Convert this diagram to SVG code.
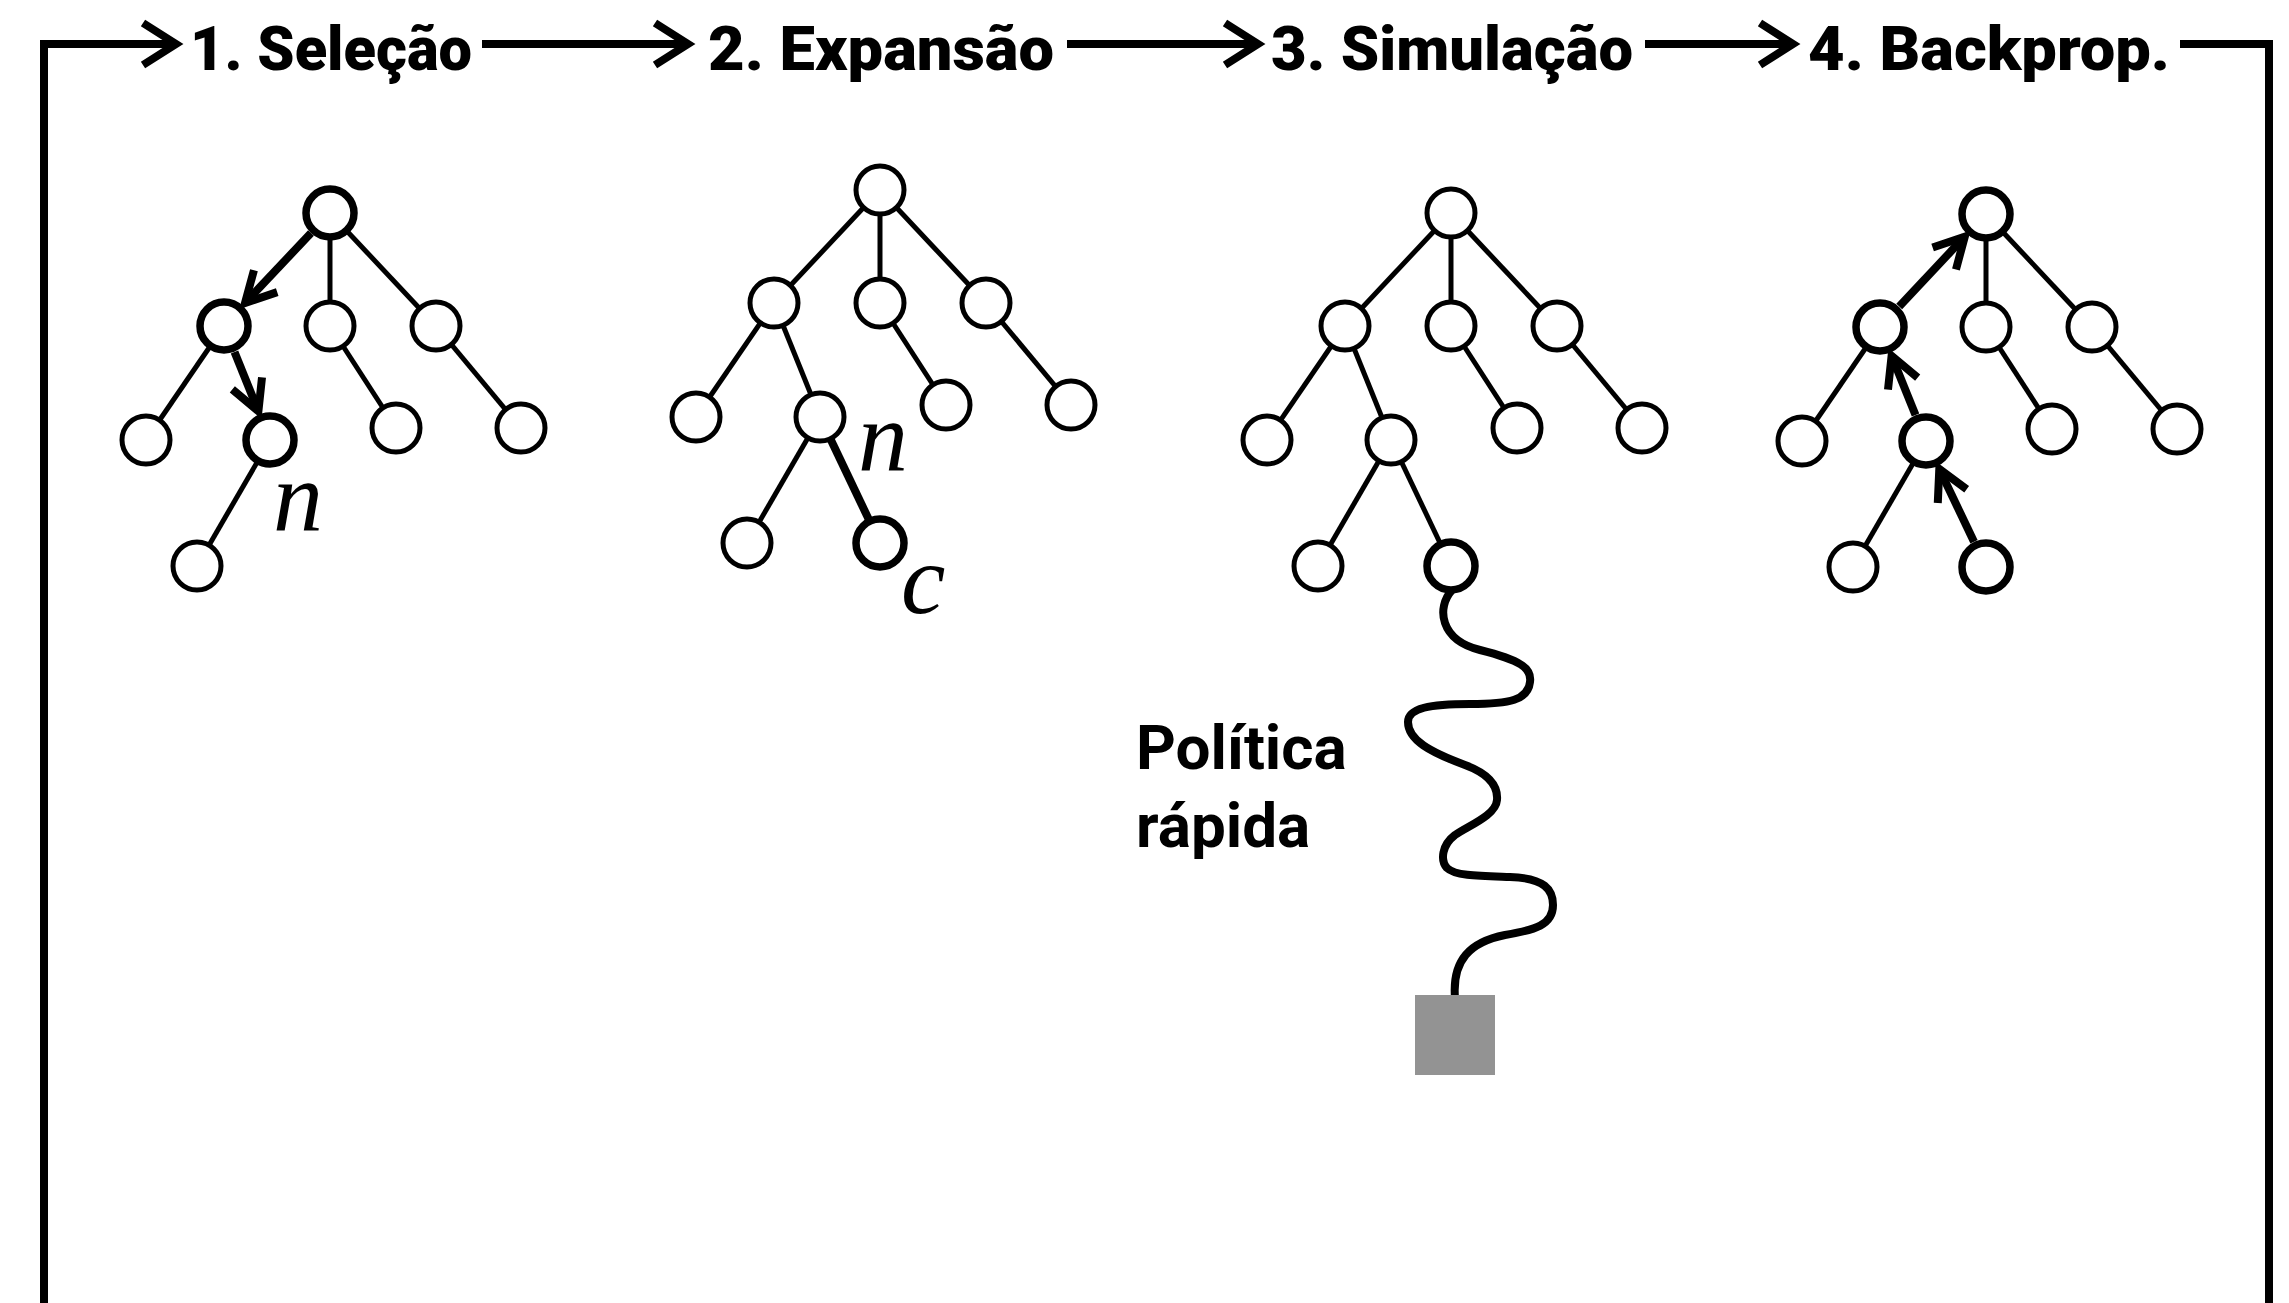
<svg xmlns="http://www.w3.org/2000/svg" width="2289" height="1303" viewBox="0 0 2289 1303">
  <style>
    .step { font-family: Roboto, "Liberation Sans", sans-serif; font-weight: 900; font-size: 62px; fill: #000; }
    .label { font-family: Roboto, "Liberation Sans", sans-serif; font-weight: 700; font-size: 62px; fill: #000; }
    .var { font-family: "Liberation Serif", serif; font-style: italic; font-size: 100px; fill: #000; }
    .edge { stroke: #000; stroke-width: 5; fill: none; }
    .bold-edge { stroke: #000; stroke-width: 8; fill: none; }
    .frame { stroke: #000; stroke-width: 8; fill: none; }
    .node { fill: #fff; stroke: #000; stroke-width: 5; }
    .node.hl { stroke-width: 7.5; }
    .rollout { stroke: #000; stroke-width: 8; fill: none; stroke-linecap: round; }
  </style>
  <defs>
    <marker id="flow-head" markerUnits="userSpaceOnUse" viewBox="-40 -26 44 52" refX="0" refY="0" markerWidth="44" markerHeight="52" orient="auto" overflow="visible">
      <path d="M-33,-21 L0,0 L-33,21" fill="none" stroke="#000" stroke-width="8"/>
    </marker>
    <marker id="tree-head" markerUnits="userSpaceOnUse" viewBox="-36 -20 40 40" refX="0" refY="0" markerWidth="40" markerHeight="40" orient="auto" overflow="visible">
      <path d="M-30,-16 L0,0 L-30,16" fill="none" stroke="#000" stroke-width="8"/>
    </marker>
  </defs>

  <rect width="2289" height="1303" fill="#fff"/>

  <!-- cycle frame and step arrows -->
  <g id="connectors">
    <path class="frame" d="M44,1303 V44 H176" marker-end="url(#flow-head)"/>
    <path class="frame" d="M482,44 H688" marker-end="url(#flow-head)"/>
    <path class="frame" d="M1067,44 H1258" marker-end="url(#flow-head)"/>
    <path class="frame" d="M1645,44 H1793" marker-end="url(#flow-head)"/>
    <path class="frame" d="M2180,44 H2269 V1303"/>

    <!-- tree 1 edges: selection path root -> L -> LR -->
    <g transform="translate(330,213)">
      <line class="edge" x1="0" y1="0" x2="0" y2="113"/>
      <line class="edge" x1="0" y1="0" x2="106" y2="113"/>
      <line class="edge" x1="-106" y1="113" x2="-184" y2="227"/>
      <line class="edge" x1="0" y1="113" x2="66" y2="215"/>
      <line class="edge" x1="106" y1="113" x2="191" y2="215"/>
      <line class="edge" x1="-60" y1="227" x2="-133" y2="353"/>
      <line class="bold-edge" x1="-19" y1="20" x2="-85" y2="90" marker-end="url(#tree-head)"/>
      <line class="bold-edge" x1="-95.5" y1="139" x2="-71.6" y2="198.2" marker-end="url(#tree-head)"/>
    </g>
    <!-- tree 2 edges -->
    <g transform="translate(880,190)">
      <line class="edge" x1="0" y1="0" x2="-106" y2="113"/>
      <line class="edge" x1="0" y1="0" x2="0" y2="113"/>
      <line class="edge" x1="0" y1="0" x2="106" y2="113"/>
      <line class="edge" x1="-106" y1="113" x2="-184" y2="227"/>
      <line class="edge" x1="-106" y1="113" x2="-60" y2="227"/>
      <line class="edge" x1="0" y1="113" x2="66" y2="215"/>
      <line class="edge" x1="106" y1="113" x2="191" y2="215"/>
      <line class="edge" x1="-60" y1="227" x2="-133" y2="353"/>
      <line class="bold-edge" x1="-60" y1="227" x2="0" y2="353"/>
    </g>
    <!-- tree 3 edges -->
    <g transform="translate(1451,213)">
      <line class="edge" x1="0" y1="0" x2="-106" y2="113"/>
      <line class="edge" x1="0" y1="0" x2="0" y2="113"/>
      <line class="edge" x1="0" y1="0" x2="106" y2="113"/>
      <line class="edge" x1="-106" y1="113" x2="-184" y2="227"/>
      <line class="edge" x1="-106" y1="113" x2="-60" y2="227"/>
      <line class="edge" x1="0" y1="113" x2="66" y2="215"/>
      <line class="edge" x1="106" y1="113" x2="191" y2="215"/>
      <line class="edge" x1="-60" y1="227" x2="-133" y2="353"/>
      <line class="edge" x1="-60" y1="227" x2="0" y2="353"/>
    </g>
    <!-- random rollout from the new leaf to the terminal state -->
    <path class="rollout" d="M1452,590 C1436,608 1440,640 1480,650 C1520,660 1532,668 1530,682 C1528,700 1510,704 1470,704 C1430,704 1408,708 1408,722 C1408,740 1430,752 1465,765 C1492,775 1498,788 1497,800 C1496,815 1470,825 1455,835 C1442,845 1440,860 1447,868 C1455,876 1480,876 1510,877 C1545,878 1553,890 1553,905 C1553,925 1535,930 1505,935 C1470,942 1452,960 1455,998"/>
    <!-- tree 4 edges: backpropagation LRR -> LR -> L -> root -->
    <g transform="translate(1986,214)">
      <line class="edge" x1="0" y1="0" x2="0" y2="113"/>
      <line class="edge" x1="0" y1="0" x2="106" y2="113"/>
      <line class="edge" x1="-106" y1="113" x2="-184" y2="227"/>
      <line class="edge" x1="0" y1="113" x2="66" y2="215"/>
      <line class="edge" x1="106" y1="113" x2="191" y2="215"/>
      <line class="edge" x1="-60" y1="227" x2="-133" y2="353"/>
      <line class="bold-edge" x1="-12" y1="327.7" x2="-46.7" y2="255" marker-end="url(#tree-head)"/>
      <line class="bold-edge" x1="-70.5" y1="201" x2="-94.4" y2="141.8" marker-end="url(#tree-head)"/>
      <line class="bold-edge" x1="-86.8" y1="92.6" x2="-21.2" y2="22.6" marker-end="url(#tree-head)"/>
    </g>
  </g>

  <!-- step titles -->
  <text class="step" x="190" y="70" textLength="282" lengthAdjust="spacingAndGlyphs">1. Seleção</text>
  <text class="step" x="708" y="70" textLength="346" lengthAdjust="spacingAndGlyphs">2. Expansão</text>
  <text class="step" x="1271" y="70" textLength="362" lengthAdjust="spacingAndGlyphs">3. Simulação</text>
  <text class="step" x="1808" y="70" textLength="362" lengthAdjust="spacingAndGlyphs">4. Backprop.</text>

  <!-- tree 1: selection -->
  <g id="tree1" transform="translate(330,213)">
    <g id="t1-root"><circle class="node hl" cx="0" cy="0" r="24"/></g>
    <g id="t1-l"><circle class="node hl" cx="-106" cy="113" r="24"/></g>
    <g id="t1-m"><circle class="node" cx="0" cy="113" r="24"/></g>
    <g id="t1-r"><circle class="node" cx="106" cy="113" r="24"/></g>
    <g id="t1-ll"><circle class="node" cx="-184" cy="227" r="24"/></g>
    <g id="t1-lr"><circle class="node hl" cx="-60" cy="227" r="24"/></g>
    <g id="t1-mc"><circle class="node" cx="66" cy="215" r="24"/></g>
    <g id="t1-rc"><circle class="node" cx="191" cy="215" r="24"/></g>
    <g id="t1-lrl"><circle class="node" cx="-133" cy="353" r="24"/></g>
  </g>
  <text class="var" x="273" y="530">n</text>

  <!-- tree 2: expansion -->
  <g id="tree2" transform="translate(880,190)">
    <g id="t2-root"><circle class="node" cx="0" cy="0" r="24"/></g>
    <g id="t2-l"><circle class="node" cx="-106" cy="113" r="24"/></g>
    <g id="t2-m"><circle class="node" cx="0" cy="113" r="24"/></g>
    <g id="t2-r"><circle class="node" cx="106" cy="113" r="24"/></g>
    <g id="t2-ll"><circle class="node" cx="-184" cy="227" r="24"/></g>
    <g id="t2-lr"><circle class="node" cx="-60" cy="227" r="24"/></g>
    <g id="t2-mc"><circle class="node" cx="66" cy="215" r="24"/></g>
    <g id="t2-rc"><circle class="node" cx="191" cy="215" r="24"/></g>
    <g id="t2-lrl"><circle class="node" cx="-133" cy="353" r="24"/></g>
    <g id="t2-lrr"><circle class="node hl" cx="0" cy="353" r="24"/></g>
  </g>
  <text class="var" x="858" y="470">n</text>
  <text class="var" x="901" y="613">c</text>

  <!-- tree 3: simulation -->
  <g id="tree3" transform="translate(1451,213)">
    <g id="t3-root"><circle class="node" cx="0" cy="0" r="24"/></g>
    <g id="t3-l"><circle class="node" cx="-106" cy="113" r="24"/></g>
    <g id="t3-m"><circle class="node" cx="0" cy="113" r="24"/></g>
    <g id="t3-r"><circle class="node" cx="106" cy="113" r="24"/></g>
    <g id="t3-ll"><circle class="node" cx="-184" cy="227" r="24"/></g>
    <g id="t3-lr"><circle class="node" cx="-60" cy="227" r="24"/></g>
    <g id="t3-mc"><circle class="node" cx="66" cy="215" r="24"/></g>
    <g id="t3-rc"><circle class="node" cx="191" cy="215" r="24"/></g>
    <g id="t3-lrl"><circle class="node" cx="-133" cy="353" r="24"/></g>
    <g id="t3-lrr"><circle class="node hl" cx="0" cy="353" r="24"/></g>
  </g>
  <g id="terminal"><rect x="1415" y="995" width="80" height="80" fill="#939393"/></g>
  <text class="label" x="1136" y="769">Política</text>
  <text class="label" x="1136" y="847">rápida</text>

  <!-- tree 4: backpropagation -->
  <g id="tree4" transform="translate(1986,214)">
    <g id="t4-root"><circle class="node hl" cx="0" cy="0" r="24"/></g>
    <g id="t4-l"><circle class="node hl" cx="-106" cy="113" r="24"/></g>
    <g id="t4-m"><circle class="node" cx="0" cy="113" r="24"/></g>
    <g id="t4-r"><circle class="node" cx="106" cy="113" r="24"/></g>
    <g id="t4-ll"><circle class="node" cx="-184" cy="227" r="24"/></g>
    <g id="t4-lr"><circle class="node hl" cx="-60" cy="227" r="24"/></g>
    <g id="t4-mc"><circle class="node" cx="66" cy="215" r="24"/></g>
    <g id="t4-rc"><circle class="node" cx="191" cy="215" r="24"/></g>
    <g id="t4-lrl"><circle class="node" cx="-133" cy="353" r="24"/></g>
    <g id="t4-lrr"><circle class="node hl" cx="0" cy="353" r="24"/></g>
  </g>
</svg>
